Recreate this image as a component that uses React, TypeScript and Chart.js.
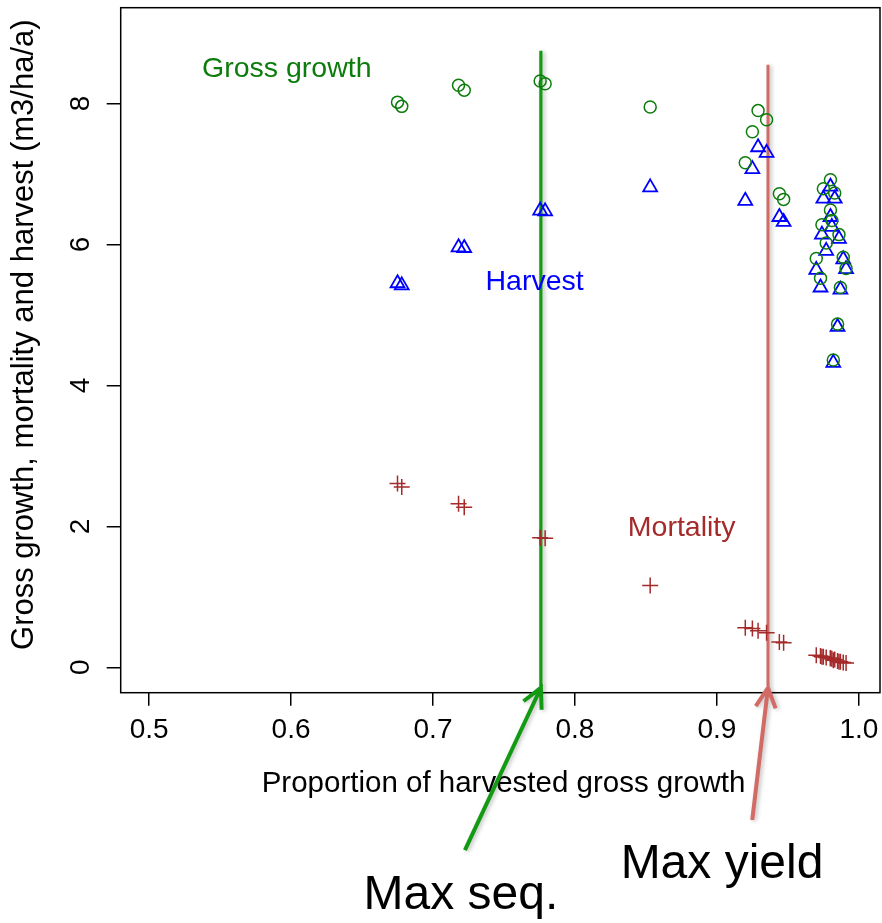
import React, { useEffect, useRef } from 'react';
import { Chart, registerables } from 'chart.js';

Chart.register(...registerables);

// ---- data ----
const proportion = [
  0.675, 0.678, 0.718, 0.722, 0.7755, 0.779, 0.853,
  0.92, 0.925, 0.929, 0.935, 0.944, 0.947,
  0.97, 0.973, 0.974, 0.975, 0.977, 0.98, 0.98, 0.981, 0.982, 0.983, 0.985, 0.986, 0.987, 0.989, 0.991,
];
const grossGrowth = [
  8.02, 7.96, 8.26, 8.19, 8.32, 8.28, 7.95,
  7.16, 7.6, 7.9, 7.77, 6.72, 6.64,
  5.8, 5.52, 6.28, 6.79, 6.02, 6.92, 6.49, 6.34, 4.36, 6.73, 4.87, 6.14, 5.39, 5.82, 5.66,
];
const harvest = [
  5.45, 5.42, 5.96, 5.95, 6.48, 6.47, 6.81,
  6.62, 7.07, 7.38, 7.3, 6.39, 6.32,
  5.64, 5.39, 6.14, 6.65, 5.91, 6.82, 6.39, 6.25, 4.32, 6.65, 4.83, 6.08, 5.36, 5.79, 5.65,
];
const mortality = [
  2.61, 2.56, 2.32, 2.27, 1.84, 1.83, 1.16,
  0.56, 0.55, 0.52, 0.49, 0.36, 0.35,
  0.17, 0.16, 0.15, 0.15, 0.14, 0.13, 0.13, 0.12, 0.1, 0.11, 0.09, 0.08, 0.08, 0.07, 0.06,
];
const seriesNames = ['Gross growth', 'Harvest', 'Mortality'];
const xTicks = [0.5, 0.6, 0.7, 0.8, 0.9, 1.0];
const yTicks = [0, 2, 4, 6, 8];
const maxSeqX = 0.776;
const maxSeqSpan = [8.75, -0.27];
const maxYieldX = 0.936;
const maxYieldSpan = [8.55, -0.26];
const annotationTexts = ['Max seq.', 'Max yield'];
const xTitle = 'Proportion of harvested gross growth';
const yTitle = 'Gross growth, mortality and harvest (m3/ha/a)';

// ---- styling / placement (kept separate from data) ----
const FONT = "'Liberation Sans', Arial, Helvetica, sans-serif";
const C_GREEN = '#0c7c0c';
const C_BLUE = '#0000ff';
const C_BROWN = '#a52a2a';
const C_LINE_GREEN = '#129a12';
const C_LINE_RED = '#d26a66';

const seriesLabelPos = [
  { x: 0.597, y: 8.372, color: C_GREEN },
  { x: 0.7716, y: 5.354, color: C_BLUE },
  { x: 0.8752, y: 1.867, color: C_BROWN },
];
const arrowSpec = [
  { tail: { x: 0.7225, y: -2.593 }, tip: { x: maxSeqX, y: -0.29 }, color: C_LINE_GREEN },
  { tail: { x: 0.9249, y: -2.167 }, tip: { x: maxYieldX, y: -0.29 }, color: C_LINE_RED },
];
const bigTextPos = [
  { x: 0.7197, y: -3.43 },
  { x: 0.9036, y: -2.99 },
];
// axis-title centres, in value space
const xTitlePos = { x: 0.7497, y: -1.65 };
const yTitlePos = { x: 0.4124, y: 4.72 };

const pts = (ys: number[]) => proportion.map((x, i) => ({ x, y: ys[i] }));

const overlayPlugin = {
  id: 'overlay',
  beforeDatasetDraw(chart: any, args: any) {
    const ds = chart.data.datasets[args.index];
    if (ds._shadow) {
      const ctx = chart.ctx;
      ctx.save();
      ctx.shadowColor = 'rgba(0,0,0,0.28)';
      ctx.shadowBlur = 4;
      ctx.shadowOffsetX = 2;
      ctx.shadowOffsetY = 1;
    }
  },
  afterDatasetDraw(chart: any, args: any) {
    const ds = chart.data.datasets[args.index];
    if (ds._shadow) chart.ctx.restore();
  },
  beforeDatasetsDraw(chart: any) {
    const { ctx, chartArea: a } = chart;
    ctx.save();
    ctx.strokeStyle = '#000';
    ctx.lineWidth = 1.5;
    ctx.strokeRect(a.left, a.top, a.right - a.left, a.bottom - a.top);
    ctx.restore();
  },
  afterDraw(chart: any) {
    const { ctx } = chart;
    const xs = chart.scales.x;
    const ys = chart.scales.y;
    const px = (p: { x: number; y: number }) => [xs.getPixelForValue(p.x), ys.getPixelForValue(p.y)];
    ctx.save();
    // axis titles
    ctx.fillStyle = '#000';
    ctx.textAlign = 'center';
    ctx.textBaseline = 'middle';
    ctx.font = `29.5px ${FONT}`;
    {
      const [x, y] = px(xTitlePos);
      ctx.fillText(xTitle, x, y);
    }
    {
      const [x, y] = px(yTitlePos);
      ctx.save();
      ctx.translate(x, y);
      ctx.rotate(-Math.PI / 2);
      ctx.font = `31px ${FONT}`;
      ctx.fillText(yTitle, 0, 0);
      ctx.restore();
    }
    // series labels
    ctx.font = `28.5px ${FONT}`;
    ctx.textAlign = 'center';
    ctx.textBaseline = 'alphabetic';
    seriesNames.forEach((t, i) => {
      const s = seriesLabelPos[i];
      const [x, y] = px(s);
      ctx.fillStyle = s.color;
      ctx.fillText(t, x, y);
    });
    // arrows
    arrowSpec.forEach((a) => {
      const [x1, y1] = px(a.tail);
      const [x2, y2] = px(a.tip);
      ctx.save();
      ctx.shadowColor = 'rgba(0,0,0,0.25)';
      ctx.shadowBlur = 4;
      ctx.shadowOffsetX = 2;
      ctx.shadowOffsetY = 1;
      ctx.strokeStyle = a.color;
      ctx.lineWidth = 4;
      ctx.lineCap = 'butt';
      ctx.lineJoin = 'miter';
      ctx.beginPath();
      ctx.moveTo(x1, y1);
      ctx.lineTo(x2, y2);
      const ang = Math.atan2(y1 - y2, x1 - x2);
      const hl = 22;
      const ha = (27 * Math.PI) / 180;
      ctx.moveTo(x2 + hl * Math.cos(ang + ha), y2 + hl * Math.sin(ang + ha));
      ctx.lineTo(x2, y2);
      ctx.lineTo(x2 + hl * Math.cos(ang - ha), y2 + hl * Math.sin(ang - ha));
      ctx.stroke();
      ctx.restore();
    });
    // big annotation texts
    ctx.font = `48px ${FONT}`;
    ctx.fillStyle = '#000';
    ctx.textAlign = 'center';
    ctx.textBaseline = 'alphabetic';
    annotationTexts.forEach((t, i) => {
      const [x, y] = px(bigTextPos[i]);
      ctx.fillText(t, x, y);
    });
    ctx.restore();
  },
};

export default function App() {
  const ref = useRef<HTMLCanvasElement>(null);
  useEffect(() => {
    document.body.style.margin = '0';
    const canvas = ref.current!;
    const chart = new Chart(canvas, {
      type: 'scatter',
      data: {
        datasets: [
          {
            label: seriesNames[0],
            data: pts(grossGrowth),
            pointStyle: 'circle',
            pointRadius: 6,
            borderColor: C_GREEN,
            backgroundColor: 'rgba(0,0,0,0)',
            borderWidth: 1.5,
          },
          {
            label: seriesNames[1],
            data: pts(harvest),
            pointStyle: 'triangle',
            pointRadius: 8,
            borderColor: C_BLUE,
            backgroundColor: 'rgba(0,0,0,0)',
            borderWidth: 1.8,
          },
          {
            label: seriesNames[2],
            data: pts(mortality),
            pointStyle: 'cross',
            pointRadius: 8,
            borderColor: C_BROWN,
            backgroundColor: C_BROWN,
            borderWidth: 1.5,
          },
          {
            label: annotationTexts[0],
            data: [
              { x: maxSeqX, y: maxSeqSpan[0] },
              { x: maxSeqX, y: maxSeqSpan[1] },
            ],
            showLine: true,
            pointRadius: 0,
            borderColor: C_LINE_GREEN,
            borderWidth: 3.2,
            _shadow: true,
          } as any,
          {
            label: annotationTexts[1],
            data: [
              { x: maxYieldX, y: maxYieldSpan[0] },
              { x: maxYieldX, y: maxYieldSpan[1] },
            ],
            showLine: true,
            pointRadius: 0,
            borderColor: C_LINE_RED,
            borderWidth: 3,
            _shadow: true,
          } as any,
        ],
      },
      options: {
        responsive: false,
        animation: false,
        events: [],
        layout: { autoPadding: false, padding: { left: 0, top: 7.7, right: 2, bottom: 0 } },
        plugins: { legend: { display: false }, tooltip: { enabled: false } },
        scales: {
          x: {
            type: 'linear',
            position: 'bottom',
            min: 0.48,
            max: 1.0149,
            afterBuildTicks: (s: any) => {
              s.ticks = xTicks.map((v) => ({ value: v }));
            },
            afterFit: (s: any) => {
              s.height = 230.3;
              s.paddingLeft = 0;
              s.paddingRight = 0;
            },
            grid: {
              display: true,
              drawOnChartArea: false,
              drawTicks: true,
              tickLength: 13,
              color: '#000',
              lineWidth: 1.5,
            },
            border: { display: false },
            ticks: {
              autoSkip: false,
              maxRotation: 0,
              minRotation: 0,
              padding: 7.5,
              color: '#000',
              font: { size: 28, family: FONT },
              callback: (v: any) => Number(v).toFixed(1),
            },
            title: { display: false },
          },
          y: {
            type: 'linear',
            position: 'left',
            min: -0.36,
            max: 9.36,
            afterBuildTicks: (s: any) => {
              s.ticks = yTicks.map((v) => ({ value: v }));
            },
            afterFit: (s: any) => {
              s.width = 120.7;
              s.paddingTop = 0;
              s.paddingBottom = 0;
            },
            grid: {
              display: true,
              drawOnChartArea: false,
              drawTicks: true,
              tickLength: 14,
              color: '#000',
              lineWidth: 1.5,
            },
            border: { display: false },
            ticks: {
              autoSkip: false,
              minRotation: 90,
              maxRotation: 90,
              crossAlign: 'center',
              padding: 18,
              color: '#000',
              font: { size: 28, family: FONT },
              callback: (v: any) => String(v),
            },
            title: { display: false },
          },
        },
      },
      plugins: [overlayPlugin],
    });
    return () => chart.destroy();
  }, []);
  return <canvas ref={ref} width={882} height={923} style={{ display: 'block' }} />;
}
